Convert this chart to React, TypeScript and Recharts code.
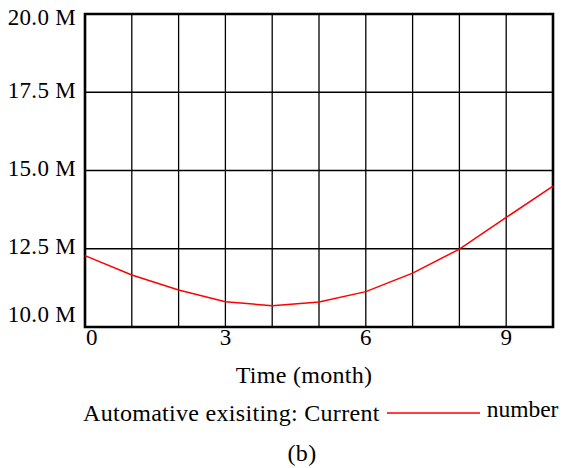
import React from 'react';
import { LineChart, Line, XAxis, YAxis, CartesianGrid, ReferenceArea, Legend } from 'recharts';

const months = [0, 1, 2, 3, 4, 5, 6, 7, 8, 9, 10];
const currentNumber = [12.28, 11.66, 11.18, 10.81, 10.68, 10.8, 11.13, 11.72, 12.49, 13.5, 14.5];
const xLabeledTicks = [0, 3, 6, 9];
const yTickValues = [10, 12.5, 15, 17.5, 20];
const seriesLabelLeft = 'Automative exisiting: Current';
const seriesLabelRight = 'number';
const xAxisTitle = 'Time (month)';
const caption = '(b)';

const data = months.map((m, i) => ({ month: m, value: currentNumber[i] }));

const FONT = '"Liberation Serif", "Times New Roman", serif';
const FS = 23;
const FS_TEXT = 24;

const XTick = (props: any) => {
  const { x, y, payload } = props;
  const v = payload.value;
  if (!xLabeledTicks.includes(v)) return null;
  const first = v === 0;
  return (
    <text x={first ? x + 1 : x} y={y} dy={10} textAnchor={first ? 'start' : 'middle'} fontFamily={FONT} fontSize={FS} fill="#000">
      {v}
    </text>
  );
};

const YTick = (props: any) => {
  const { x, y, payload } = props;
  const v = payload.value;
  let dy = -2.5;
  if (v === 20) dy = 2.5;
  if (v === 10) dy = -13;
  return (
    <text x={x - 1} y={y + dy} dy="0.35em" textAnchor="end" fontFamily={FONT} fontSize={FS} letterSpacing={0.3} fill="#000">
      {v.toFixed(1) + ' M'}
    </text>
  );
};

const LegendContent = () => (
  <div style={{ position: 'relative', width: 563, height: 110, fontFamily: FONT, fontSize: FS_TEXT, letterSpacing: 0.3, color: '#000', lineHeight: 1 }}>
    <div style={{ position: 'absolute', left: 0, width: 608, top: 0, textAlign: 'center', whiteSpace: 'nowrap' }}>{xAxisTitle}</div>
    <div style={{ position: 'absolute', left: 83, top: 38, display: 'flex', alignItems: 'center', whiteSpace: 'nowrap' }}>
      <span>{seriesLabelLeft}</span>
      <svg width={93} height={6} style={{ marginLeft: 7, marginRight: 7 }}>
        <line x1={0} y1={3} x2={93} y2={3} stroke="#ff0000" strokeWidth={1.5} />
      </svg>
      <span style={{ position: 'relative', top: -3, letterSpacing: 0, fontSize: 23.5 }}>{seriesLabelRight}</span>
    </div>
    <div style={{ position: 'absolute', left: 0, width: 604, top: 78, textAlign: 'center' }}>{caption}</div>
  </div>
);

export default function App() {
  return (
    <div>
      <style>{'body{margin:0}'}</style>
      <LineChart width={563} height={468} data={data} margin={{ top: 14, right: 10, left: 0, bottom: 111 }}>
        <CartesianGrid stroke="#000" strokeWidth={1.3} fill="none" />
        <XAxis
          dataKey="month"
          type="number"
          domain={[0, 10]}
          ticks={months}
          interval={0}
          tickLine={false}
          axisLine={false}
          height={30}
          tick={<XTick />}
        />
        <YAxis
          type="number"
          domain={[10, 20]}
          ticks={yTickValues}
          interval={0}
          tickLine={false}
          axisLine={false}
          width={85}
          tick={<YTick />}
        />
        <ReferenceArea x1={0} x2={10} y1={10} y2={20} fill="none" stroke="#000" strokeWidth={2.6} ifOverflow="visible" />
        <Line type="linear" dataKey="value" stroke="#ff0000" strokeWidth={1.5} dot={false} isAnimationActive={false} />
        <Legend
          layout="horizontal"
          verticalAlign="middle"
          align="center"
          wrapperStyle={{ top: 363, left: 0, width: 563 }}
          content={<LegendContent />}
        />
      </LineChart>
    </div>
  );
}
